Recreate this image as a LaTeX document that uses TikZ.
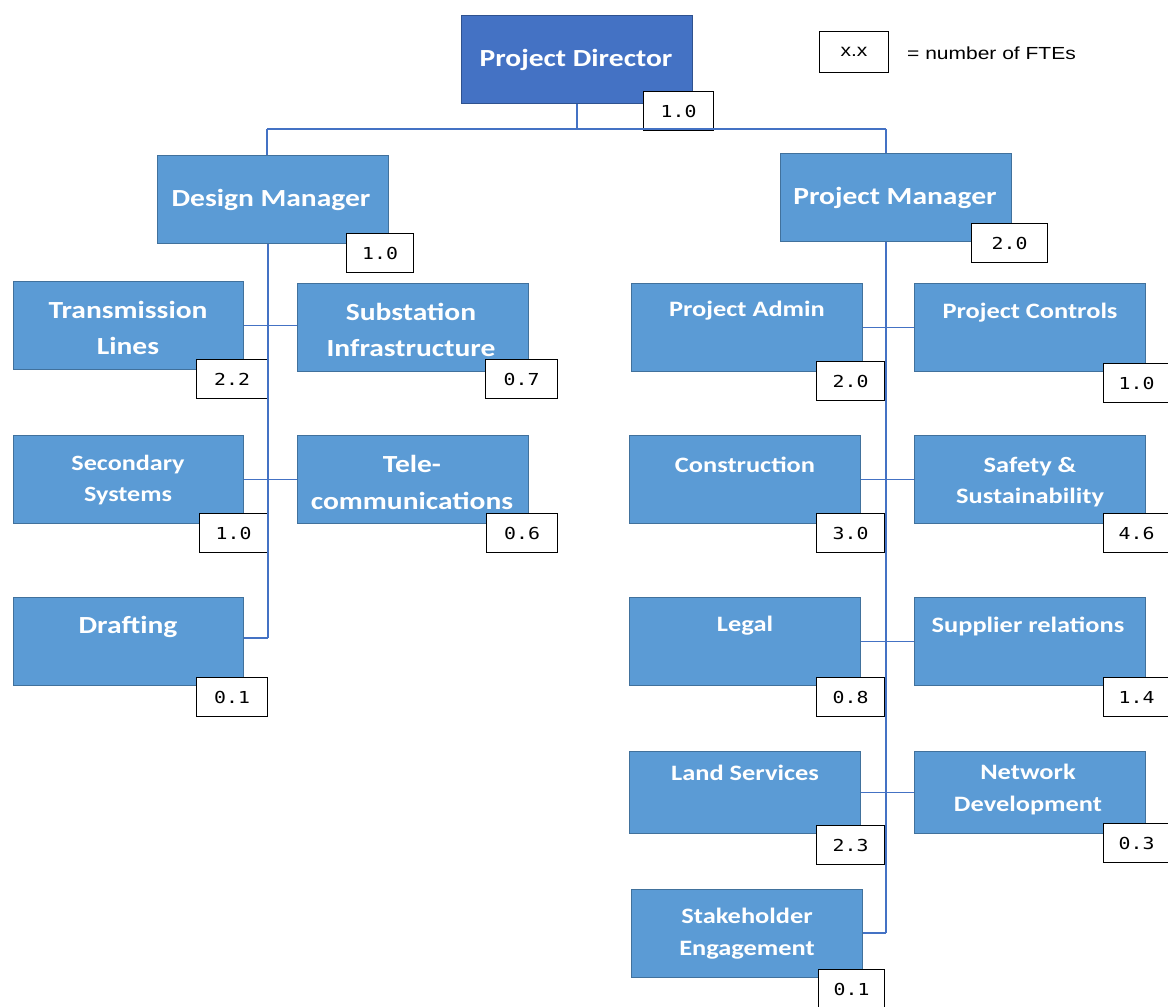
\documentclass[tikz,border=0pt]{standalone}
\usepackage{fontspec}
\setmainfont{Carlito}[FakeStretch=1.2]
\newfontfamily\arialf{Liberation Sans}[FakeStretch=1.2]
\newfontfamily\monof{DejaVu Sans Mono}[FakeStretch=1.2]
\definecolor{pdfill}{HTML}{4472C4}
\definecolor{pdborder}{HTML}{2F528F}
\definecolor{bxfill}{HTML}{5B9BD5}
\definecolor{bxborder}{HTML}{41719C}
\definecolor{linkc}{HTML}{4472C4}
\begin{document}
\begin{tikzpicture}[x=1pt,y=-1pt,
  orgbox/.style={draw=bxborder, fill=bxfill, line width=1pt, inner sep=0pt,
    minimum width=231pt, minimum height=88pt, anchor=north west},
  lbl/.style={text=white, align=center, inner sep=0pt, font=\bfseries\fontsize{22}{32}\selectfont},
  biglbl/.style={lbl, font=\bfseries\fontsize{24.6}{36}\selectfont},
  ftebox/.style={draw=black, fill=white, line width=1.2pt, inner sep=0pt,
    minimum width=68pt, minimum height=39pt, anchor=north west,
    font=\monof\fontsize{16.5}{20}\selectfont},
  link/.style={draw=linkc, line width=1.5pt}]
\useasboundingbox (0,0) rectangle (1168,1007);
\fill[white] (0,0) rectangle (1168,1007);

\coordinate (jl) at (267,129);
\coordinate (jr) at (886,129);
\coordinate (lsp) at (268,638);
\coordinate (rsp) at (886,933);

% ---------- top ----------
\node[orgbox, fill=pdfill, draw=pdborder] (pd) at (461,15) {};
\node[biglbl] (pd-t) at (576,60) {Project Director};
\node[ftebox, minimum width=70pt] (pd-f) at (643,91) {1.0};

\node[orgbox] (dm) at (157,155) {};
\node[biglbl] (dm-t) at (271,200) {Design Manager};
\node[ftebox, minimum width=67pt] (dm-f) at (346,233) {1.0};

\node[orgbox] (pm) at (780,153) {};
\node[biglbl] (pm-t) at (895,198) {Project Manager};
\node[ftebox, minimum width=76pt] (pm-f) at (971,223) {2.0};

% ---------- legend ----------
\node[draw=black, line width=1pt, minimum width=69pt, minimum height=41pt, inner sep=0pt,
  anchor=north west, font=\arialf\fontsize{17.5}{20}\selectfont] (lg) at (819,31) {x.x};
\node[anchor=west, inner sep=0pt, font=\arialf\fontsize{17.5}{20}\selectfont] (lg-t) at (907,53) {= number of FTEs};

% ---------- left branch ----------
\node[orgbox, minimum width=230pt] (tl) at (13,281) {};
\node[biglbl] (tl-t) at (128,328) {Transmission\\Lines};
\node[ftebox, minimum width=71pt] (tl-f) at (196,359) {2.2};

\node[orgbox] (si) at (297,283) {};
\node[biglbl] (si-t) at (411,330) {Substation\\Infrastructure};
\node[ftebox, minimum width=72pt] (si-f) at (485,359) {0.7};

\node[orgbox, minimum width=230pt] (ss) at (13,435) {};
\node[lbl, font=\bfseries\fontsize{21.8}{31}\selectfont] (ss-t) at (128,480) {Secondary\\Systems};
\node[ftebox, minimum width=68pt] (ss-f) at (199,513) {1.0};

\node[orgbox] (tc) at (297,435) {};
\node[biglbl, font=\bfseries\fontsize{24.6}{37}\selectfont] (tc-t) at (412,482) {Tele-\\communications};
\node[ftebox, minimum width=71pt] (tc-f) at (486,513) {0.6};

\node[orgbox, minimum width=230pt] (dr) at (13,597) {};
\node[biglbl] (dr-t) at (128,627) {Drafting};
\node[ftebox, minimum width=71pt] (dr-f) at (196,677) {0.1};

% ---------- right branch ----------
\node[orgbox] (pa) at (631,283) {};
\node[lbl] (pa-t) at (747,311) {Project Admin};
\node[ftebox, minimum width=68pt] (pa-f) at (816,361) {2.0};

\node[orgbox] (pc) at (914,283) {};
\node[lbl] (pc-t) at (1030,313) {Project Controls};
\node[ftebox, minimum width=66pt] (pc-f) at (1103,363) {1.0};

\node[orgbox] (co) at (629,435) {};
\node[lbl] (co-t) at (745,465) {Construction};
\node[ftebox, minimum width=68pt] (co-f) at (816,513) {3.0};

\node[orgbox] (sa) at (914,435) {};
\node[lbl, font=\bfseries\fontsize{22}{31}\selectfont] (sa-t) at (1030,482) {Safety \&\\Sustainability};
\node[ftebox, minimum width=66pt] (sa-f) at (1103,513) {4.6};

\node[orgbox] (le) at (629,597) {};
\node[lbl] (le-t) at (745,626) {Legal};
\node[ftebox, minimum width=68pt] (le-f) at (816,677) {0.8};

\node[orgbox] (su) at (914,597) {};
\node[lbl] (su-t) at (1028,626) {Supplier relations};
\node[ftebox, minimum width=66pt] (su-f) at (1103,677) {1.4};

\node[orgbox, minimum height=82pt] (la) at (629,751) {};
\node[lbl] (la-t) at (745,773) {Land Services};
\node[ftebox, minimum width=68pt] (la-f) at (816,825) {2.3};

\node[orgbox, minimum height=82pt] (nd) at (914,751) {};
\node[lbl] (nd-t) at (1028,790) {Network\\Development};
\node[ftebox, minimum width=66pt] (nd-f) at (1103,823) {0.3};

\node[orgbox] (se) at (631,889) {};
\node[lbl] (se-t) at (747,934) {Stakeholder\\Engagement};
\node[ftebox, minimum width=66pt] (se-f) at (818,969) {0.1};

% ---------- connectors ----------
\path[link] (pd.south) -- (pd.south |- jl);
\path[link] (jl) -- (jr);
\path[link] (jl) -- (jl |- dm.north);
\path[link] (jr) -- (jr |- pm.north);
\path[link] (dm.south -| lsp) -- (lsp);
\path[link] (pm.south -| rsp) -- (rsp);
\path[link] (tl.east) -- (tl.east -| si.west);
\path[link] (ss.east) -- (ss.east -| tc.west);
\path[link] (dr.east |- lsp) -- (lsp);
\path[link] (pa.east) -- (pa.east -| pc.west);
\path[link] (co.east) -- (co.east -| sa.west);
\path[link] (le.east) -- (le.east -| su.west);
\path[link] (la.east) -- (la.east -| nd.west);
\path[link] (se.east |- rsp) -- (rsp);
\end{tikzpicture}
\end{document}
